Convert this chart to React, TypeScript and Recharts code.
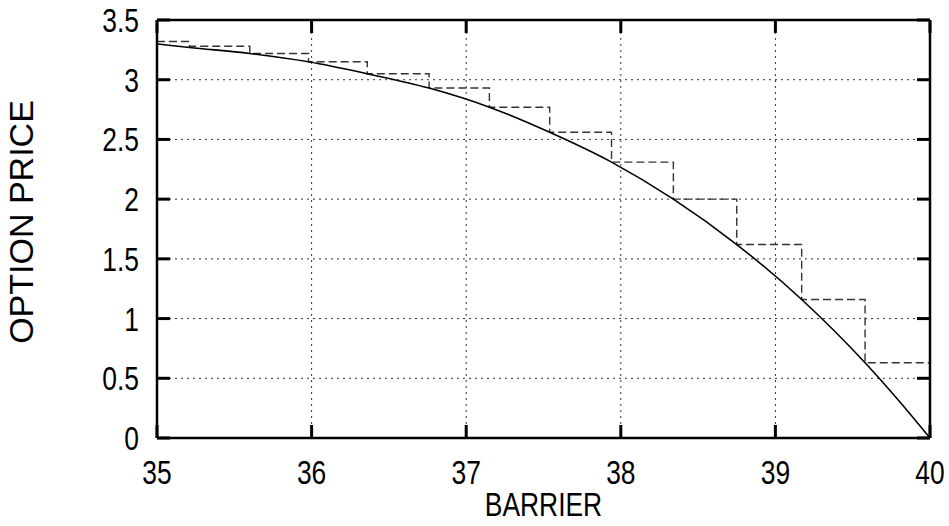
import React from 'react';
import { LineChart, Line, XAxis, YAxis, CartesianGrid, Label } from 'recharts';

// Continuous-monitoring price curve (solid)
const curveBarrier = [35.0, 35.21, 35.6, 35.98, 36.36, 36.76, 37.15, 37.54, 37.94, 38.34, 38.75, 39.17, 39.58, 39.8, 40.0];
const curvePrice = [3.3, 3.27, 3.22, 3.15, 3.05, 2.93, 2.77, 2.56, 2.31, 2.0, 1.62, 1.16, 0.63, 0.31, 0.0];

// Discrete-monitoring step approximation (dashed)
const stepBarrier = [35.0, 35.21, 35.6, 35.98, 36.36, 36.76, 37.15, 37.54, 37.94, 38.34, 38.75, 39.17, 39.58, 40.0];
const stepPrice = [3.32, 3.28, 3.22, 3.15, 3.05, 2.93, 2.77, 2.56, 2.31, 2.0, 1.62, 1.16, 0.63, 0.0];

const xTicks = [35, 36, 37, 38, 39, 40];
const yTicks = [0, 0.5, 1, 1.5, 2, 2.5, 3, 3.5];

const xLabel = 'BARRIER';
const yLabel = 'OPTION PRICE';

const curveData = curveBarrier.map((b, i) => ({ b, p: curvePrice[i] }));
const stepData = stepBarrier.map((b, i) => ({ b, p: stepPrice[i] }));

const SANS = '"Liberation Sans", Arial, sans-serif';
const NARROW_SCALE = 0.8;
const FONT = 33;
const TICK_LEN = 13;
const TICK_W = 3;
const FRAME = { stroke: '#000', strokeWidth: 2.5 };

const NarrowText = ({ x, y, anchor, size, children }: any) => (
  <g transform={`translate(${x} ${y}) scale(${NARROW_SCALE} 1)`}>
    <text x={0} y={0} textAnchor={anchor} style={{ fontFamily: SANS, fontSize: size }} fill="#000">
      {children}
    </text>
  </g>
);

const BottomTick = (props: any) => {
  const { x, y, payload } = props;
  return (
    <g>
      <rect x={x - TICK_W / 2} y={y - TICK_LEN} width={TICK_W} height={TICK_LEN} fill="#000" />
      <NarrowText x={x} y={y + 46} anchor="middle" size={FONT}>
        {String(payload.value)}
      </NarrowText>
    </g>
  );
};

const LeftTick = (props: any) => {
  const { x, y, payload } = props;
  return (
    <g>
      <rect x={x} y={y - TICK_W / 2} width={TICK_LEN} height={TICK_W} fill="#000" />
      <NarrowText x={x - 18} y={y + 12} anchor="end" size={FONT}>
        {String(payload.value)}
      </NarrowText>
    </g>
  );
};

const TopTick = (props: any) => {
  const { x, y } = props;
  return <rect x={x - TICK_W / 2} y={y} width={TICK_W} height={TICK_LEN} fill="#000" />;
};

const RightTick = (props: any) => {
  const { x, y } = props;
  return <rect x={x - TICK_LEN} y={y - TICK_W / 2} width={TICK_LEN} height={TICK_W} fill="#000" />;
};

const XLabelContent = (props: any) => {
  const vb = props.viewBox || {};
  const cx = vb.x + vb.width / 2;
  return (
    <NarrowText x={cx} y={516} anchor="middle" size={FONT}>
      {xLabel}
    </NarrowText>
  );
};

const YLabelContent = (props: any) => {
  const vb = props.viewBox || {};
  const cy = vb.y + vb.height / 2 - 7;
  const lx = 33;
  return (
    <text
      x={lx}
      y={cy}
      transform={`rotate(-90 ${lx} ${cy})`}
      textAnchor="middle"
      style={{ fontFamily: SANS, fontSize: 34 }}
      fill="#000"
    >
      {yLabel}
    </text>
  );
};

export default function App() {
  return (
    <div style={{ position: 'absolute', left: 0, top: 0, background: '#fff' }}>
      <LineChart width={949} height={526} margin={{ top: 19, right: 18, left: 0, bottom: 0 }}>
        <CartesianGrid xAxisId="b" yAxisId="l" stroke="#333" strokeDasharray="2 4" strokeWidth={1} />
        <XAxis
          xAxisId="b"
          dataKey="b"
          type="number"
          domain={[35, 40]}
          ticks={xTicks}
          interval={0}
          height={88}
          tickSize={0}
          tickMargin={0}
          tick={BottomTick}
          axisLine={FRAME}
          tickLine={false}
          allowDataOverflow
        >
          <Label content={<XLabelContent />} />
        </XAxis>
        <XAxis
          xAxisId="t"
          dataKey="b"
          type="number"
          orientation="top"
          domain={[35, 40]}
          ticks={xTicks}
          interval={0}
          height={1}
          tickSize={0}
          tickMargin={0}
          tick={TopTick}
          axisLine={FRAME}
          tickLine={false}
          allowDataOverflow
        />
        <YAxis
          yAxisId="l"
          type="number"
          domain={[0, 3.5]}
          ticks={yTicks}
          interval={0}
          width={157}
          tickSize={0}
          tickMargin={0}
          tick={LeftTick}
          axisLine={FRAME}
          tickLine={false}
          allowDataOverflow
        >
          <Label content={<YLabelContent />} />
        </YAxis>
        <YAxis
          yAxisId="r"
          type="number"
          orientation="right"
          domain={[0, 3.5]}
          ticks={yTicks}
          interval={0}
          width={1}
          tickSize={0}
          tickMargin={0}
          tick={RightTick}
          axisLine={FRAME}
          tickLine={false}
          allowDataOverflow
        />
        <Line
          xAxisId="b"
          yAxisId="l"
          data={stepData}
          dataKey="p"
          type="stepAfter"
          stroke="#333"
          strokeWidth={1.4}
          strokeDasharray="8 4"
          dot={false}
          activeDot={false}
          isAnimationActive={false}
        />
        <Line
          xAxisId="b"
          yAxisId="l"
          data={curveData}
          dataKey="p"
          type="monotone"
          stroke="#000"
          strokeWidth={1.6}
          dot={false}
          activeDot={false}
          isAnimationActive={false}
        />
      </LineChart>
    </div>
  );
}
